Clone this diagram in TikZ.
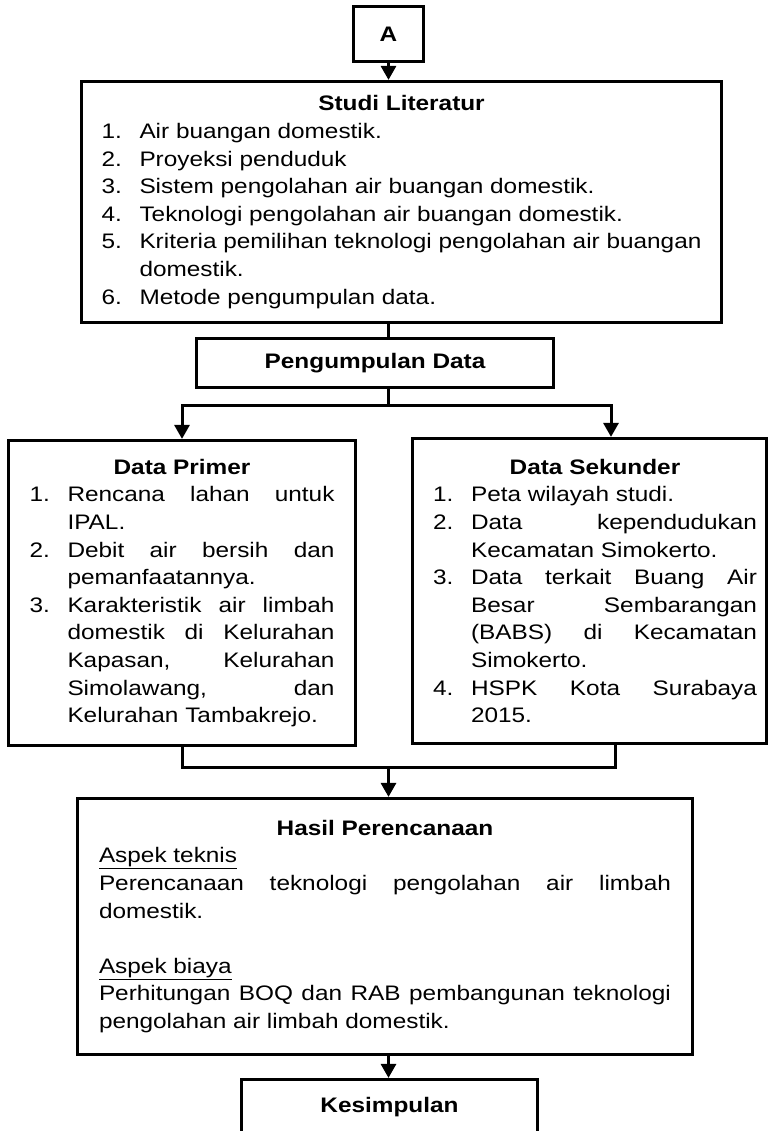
\documentclass[tikz,border=0pt]{standalone}
\usepackage{fontspec}
\setmainfont{Liberation Sans}[FakeStretch=1.16]
\usepackage{enumitem}
\usetikzlibrary{arrows.meta}
\setlist[enumerate]{label=\arabic*., leftmargin=38pt, labelwidth=38pt, labelsep=0pt, align=left, topsep=0pt, itemsep=0pt, parsep=0pt, partopsep=0pt}

\begin{document}
\begin{tikzpicture}[x=1pt, y=-1pt,
  box/.style={draw, line width=3.2pt, font=\fontsize{21}{27.6}\selectfont, align=justify, inner ysep=0pt},
  titre/.style={box, align=center, font=\fontsize{21}{27.6}\selectfont\bfseries, inner sep=0pt},
  arr/.style={line width=3pt, -{Triangle[width=15pt,length=14pt]}},
  link/.style={line width=3pt}]
\useasboundingbox (0,0) rectangle (768,1131);
\clip (0,0) rectangle (768,1131);

\node[titre, minimum width=70pt, minimum height=55pt] (A) at (388.5,34) {A};

\node[box, text width=600pt, inner xsep=20pt, minimum height=241pt] (Studi) at (401.5,202) {%
{\centering\bfseries Studi Literatur\par}
\begin{enumerate}
\item Air buangan domestik.
\item Proyeksi penduduk
\item Sistem pengolahan air buangan domestik.
\item Teknologi pengolahan air buangan domestik.
\item Kriteria pemilihan teknologi pengolahan air buangan \newline domestik.
\item Metode pengumpulan data.
\end{enumerate}};

\node[titre, minimum width=357pt, minimum height=49pt] (Peng) at (375,363) {Pengumpulan Data};

\node[box, text width=305pt, inner xsep=21pt, minimum height=305pt] (Primer) at (182,593) {%
{\centering\bfseries Data Primer\par}
\begin{enumerate}
\item Rencana lahan untuk \linebreak IPAL.
\item Debit air bersih dan \linebreak pemanfaatannya.
\item Karakteristik air limbah \linebreak domestik di Kelurahan \linebreak Kapasan, Kelurahan \linebreak Simolawang, dan \linebreak Kelurahan Tambakrejo.
\end{enumerate}};

\node[box, text width=324pt, inner xsep=15pt, minimum height=305pt] (Sekunder) at (589.5,591) {%
{\centering\hspace*{11pt}\bfseries Data Sekunder\par}
\begin{enumerate}[leftmargin=43.5pt, rightmargin=-5.5pt]
\item Peta wilayah studi.
\item Data kependudukan \linebreak Kecamatan Simokerto.
\item Data terkait Buang Air \linebreak Besar Sembarangan \linebreak (BABS) di Kecamatan \linebreak Simokerto.
\item HSPK Kota Surabaya \linebreak 2015.
\end{enumerate}};

\node[box, text width=572pt, inner xsep=21.5pt, minimum height=256pt] (Hasil) at (385,926.5) {%
{\centering\bfseries Hasil Perencanaan\par}
\underline{Aspek teknis}\par
Perencanaan teknologi pengolahan air limbah \linebreak domestik.\par
\vspace{27.6pt}
\underline{Aspek biaya}\par
Perhitungan BOQ dan RAB pembangunan teknologi \linebreak pengolahan air limbah domestik.};

\node[titre, minimum width=296pt, minimum height=55pt] (Kesimp) at (389.5,1107) {Kesimpulan};

\coordinate (forkL) at (182,405);
\coordinate (forkR) at (611,405);
\coordinate (joinL) at (182,767);
\coordinate (joinR) at (615,767);

\draw[arr] (A.south) -- (A.south |- Studi.north);
\draw[link] (Studi.south -| A.south) -- (Peng.north -| A.south);
\draw[arr] (Peng.south -| A.south) |- (forkL) -- (forkL |- Primer.north);
\draw[arr] (Peng.south -| A.south) |- (forkR) -- (forkR |- Sekunder.north);
\draw[link] (Primer.south -| joinL) -- (joinL) -- (joinR) -- (Sekunder.south -| joinR);
\draw[arr] (joinL -| A.south) -- (Hasil.north -| A.south);
\draw[arr] (Hasil.south -| A.south) -- (Kesimp.north -| A.south);

\end{tikzpicture}
\end{document}
